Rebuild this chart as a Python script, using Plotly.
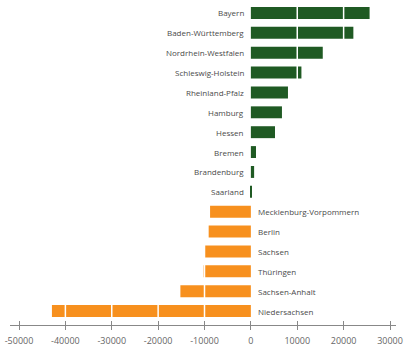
import plotly.graph_objects as go

states = ["Bayern", "Baden-Württemberg", "Nordrhein-Westfalen", "Schleswig-Holstein",
          "Rheinland-Pfalz", "Hamburg", "Hessen", "Bremen", "Brandenburg", "Saarland",
          "Mecklenburg-Vorpommern", "Berlin", "Sachsen", "Thüringen", "Sachsen-Anhalt",
          "Niedersachsen"]
values = [25600, 22100, 15500, 10900, 8000, 6700, 5200, 1100, 700, 80,
          -8800, -9100, -9900, -10200, -15200, -42900]
tick_vals = [-50000, -40000, -30000, -20000, -10000, 0, 10000, 20000, 30000]

GREEN = "#1f5a23"
ORANGE = "#f7901e"
FONT = "Open Sans, sans-serif"
colors = [GREEN if v >= 0 else ORANGE for v in values]

fig = go.Figure()
fig.add_trace(go.Bar(x=values, y=states, orientation="h",
                     marker=dict(color=colors, line=dict(width=0)),
                     width=0.6, hoverinfo="x+y"))

annotations = []
for s, v in zip(states, values):
    pos = v >= 0
    annotations.append(dict(x=0, y=s, xref="x", yref="y", text=s, showarrow=False,
                            xanchor="right" if pos else "left", xshift=-5 if pos else 5,
                            font=dict(size=8, color="#4a4a4a", family=FONT)))

# white separator lines drawn over the bars at each tick value
shapes = [dict(type="line", xref="x", yref="paper", x0=t, x1=t, y0=0.015, y1=1,
               line=dict(color="white", width=1.5), layer="above")
          for t in tick_vals if t != 0]

xrange = [-51941, 31294]
fig.update_layout(
    width=404, height=347,
    margin=dict(l=10, r=8, t=0, b=20),
    paper_bgcolor="white", plot_bgcolor="white",
    showlegend=False,
    annotations=annotations,
    shapes=shapes,
    xaxis=dict(range=xrange, tickvals=tick_vals, ticktext=[str(t) for t in tick_vals],
               showgrid=False, zeroline=False,
               showline=True, linecolor="#888888", linewidth=1,
               ticks="outside", ticklen=4, tickcolor="#888888", tickwidth=1,
               ticklabelstandoff=3,
               tickfont=dict(size=9, color="#666666", family=FONT)),
    xaxis2=dict(range=xrange, overlaying="x", side="bottom", anchor="y",
                tickvals=tick_vals, showticklabels=False, showgrid=False, zeroline=False,
                ticks="inside", ticklen=4, tickcolor="#888888", tickwidth=1, showline=False),
    yaxis=dict(type="category", range=[15.7, -0.65], showticklabels=False,
               showgrid=False, zeroline=False, showline=False, ticks=""),
)
fig.add_trace(go.Scatter(x=[None], y=[None], xaxis="x2", yaxis="y",
                         showlegend=False, hoverinfo="skip"))

fig.write_html("out.html")
